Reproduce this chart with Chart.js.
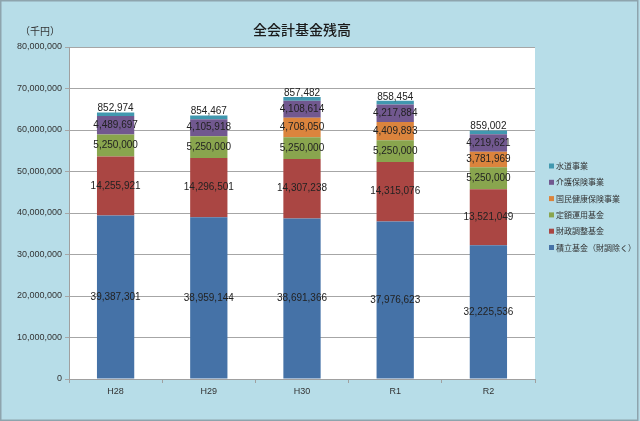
<!DOCTYPE html>
<html>
<head>
<meta charset="utf-8">
<script src="https://cdn.jsdelivr.net/npm/chart.js@4/dist/chart.umd.min.js"></script>
<style>
  html, body { margin: 0; padding: 0; background: #ffffff; }
  #wrap { width: 640px; height: 421px; position: relative; }
</style>
</head>
<body>
<div id="wrap"><canvas id="chart" width="640" height="421"></canvas></div>
<script>
const categories = ['H28', 'H29', 'H30', 'R1', 'R2'];

const tsumitate = [39387301, 38959144, 38691366, 37976623, 32225536];
const zaicho    = [14255921, 14296501, 14307238, 14315076, 13521049];
const teigaku   = [5250000, 5250000, 5250000, 5250000, 5250000];
const kokuho    = [0, 0, 4708050, 4409893, 3781969];
const kaigo     = [4489697, 4105918, 4108614, 4217884, 4219621];
const suido     = [852974, 854467, 857482, 858454, 859002];

const yTicks = [0, 10000000, 20000000, 30000000, 40000000, 50000000, 60000000, 70000000, 80000000];

const seriesNames = ['積立基金（財調除く）', '財政調整基金', '定額運用基金', '国民健康保険事業', '介護保険事業', '水道事業'];
const seriesData = [tsumitate, zaicho, teigaku, kokuho, kaigo, suido];
const seriesColors = ['#4572a7', '#aa4643', '#89a54e', '#db843d', '#71588f', '#4198af'];

const numFont = '"Liberation Sans Narrow", "Liberation Sans", sans-serif';
const jpFont = '"Noto Sans CJK JP", sans-serif';
const fmt = v => v.toLocaleString('en-US');

// background, plot area, title, unit, legend, border
const frame = {
    id: 'frame',
    beforeDraw(chart) {
        const { ctx, chartArea: a } = chart;
        ctx.save();
        ctx.fillStyle = '#b7dde8';
        ctx.fillRect(0, 0, chart.width, chart.height);
        ctx.fillStyle = '#ffffff';
        ctx.fillRect(a.left, a.top, a.right - a.left, a.bottom - a.top);
        ctx.restore();
    },
    afterDraw(chart) {
        const { ctx } = chart;
        ctx.save();
        ctx.fillStyle = '#1a1a1a';
        ctx.textAlign = 'center';
        ctx.textBaseline = 'middle';
        ctx.font = '500 14px ' + jpFont;
        ctx.fillText('全会計基金残高', 302, 30);
        ctx.font = '10px ' + jpFont;
        ctx.fillStyle = '#333';
        ctx.fillText('（千円）', 40, 31);

        // legend, top item is the last series
        ctx.textAlign = 'left';
        ctx.font = '8px ' + jpFont;
        for (let i = seriesNames.length - 1, row = 0; i >= 0; i--, row++) {
            const y = 166 + row * 16.3;
            ctx.fillStyle = seriesColors[i];
            ctx.fillRect(549, y - 2.5, 5, 5);
            ctx.fillStyle = '#333';
            ctx.fillText(seriesNames[i], 556, y);
        }

        ctx.strokeStyle = '#8ea4ad';
        ctx.lineWidth = 1.5;
        ctx.strokeRect(0.75, 0.75, 637, 419.5);
        ctx.restore();
    }
};

// value labels inside each segment, water label above the bar
const valueLabels = {
    id: 'valueLabels',
    afterDatasetsDraw(chart) {
        const { ctx } = chart;
        ctx.save();
        ctx.font = '10px ' + numFont;
        ctx.fillStyle = '#222';
        ctx.textAlign = 'center';
        chart.data.datasets.forEach((ds, di) => {
            const meta = chart.getDatasetMeta(di);
            meta.data.forEach((bar, i) => {
                const v = ds.data[i];
                if (!v) return;
                if (di === chart.data.datasets.length - 1) {
                    ctx.textBaseline = 'bottom';
                    ctx.fillText(fmt(v), bar.x, Math.min(bar.y, bar.base) + 1);
                } else {
                    ctx.textBaseline = 'middle';
                    ctx.fillText(fmt(v), bar.x, (bar.y + bar.base) / 2);
                }
            });
        });
        ctx.restore();
    }
};

new Chart(document.getElementById('chart'), {
    type: 'bar',
    data: {
        labels: categories,
        datasets: seriesData.map((d, i) => ({
            label: seriesNames[i],
            data: d,
            backgroundColor: seriesColors[i],
            borderWidth: 0,
            barPercentage: 0.4,
            categoryPercentage: 1.0
        }))
    },
    options: {
        responsive: false,
        animation: false,
        layout: { padding: { left: 0, top: 47, right: 105, bottom: 0 } },
        plugins: {
            legend: { display: false },
            title: { display: false },
            tooltip: { enabled: false }
        },
        scales: {
            x: {
                stacked: true,
                afterFit: s => { s.height = 42; },
                grid: { offset: true, drawOnChartArea: false, color: '#a0a0a0', tickLength: 4 },
                border: { color: '#a0a0a0' },
                ticks: { color: '#333', font: { size: 9, family: numFont }, padding: 3 }
            },
            y: {
                stacked: true,
                min: 0,
                max: 80000000,
                afterFit: s => { s.width = 69; },
                afterBuildTicks: s => { s.ticks = yTicks.map(v => ({ value: v })); },
                grid: { color: '#a6a6a6', tickLength: 4 },
                border: { color: '#a0a0a0' },
                ticks: {
                    color: '#333',
                    font: { size: 9, family: numFont },
                    padding: 3,
                    callback: v => fmt(v)
                }
            }
        }
    },
    plugins: [frame, valueLabels]
});
</script>
</body>
</html>
